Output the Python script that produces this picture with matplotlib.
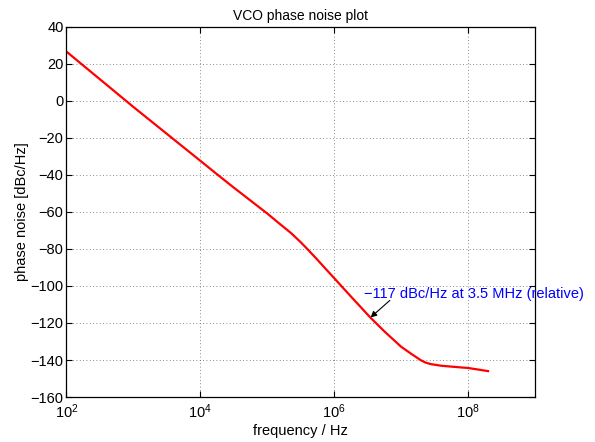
import numpy as np
import matplotlib
matplotlib.use('Agg')
from matplotlib import pyplot as plt
from matplotlib.ticker import FixedLocator, LogFormatterMathtext, NullLocator

plt.rcParams['font.family'] = ['Liberation Sans', 'DejaVu Sans']
plt.rcParams['mathtext.fontset'] = 'custom'
plt.rcParams['mathtext.rm'] = 'Liberation Sans'
plt.rcParams['mathtext.it'] = 'Liberation Sans:italic'

# values
log_freq = [2.0, 3.0, 4.0, 4.25, 4.5, 4.75, 5.0, 5.2, 5.36, 5.5, 5.6,
            5.75, 5.85, 6.0, 6.14, 6.3, 6.54, 6.75, 7.0, 7.15, 7.29, 7.36,
            7.44, 7.6, 7.89, 8.0, 8.3]
noise_db = [26.7, -3.2, -32.3, -39.6, -46.8, -53.8, -60.8, -66.8, -71.5,
            -76.3, -80.0, -85.8, -89.8, -95.7, -101.3, -107.6, -117.0,
            -124.5, -132.8, -136.6, -140.0, -141.3, -142.2, -143.1, -144.0,
            -144.3, -146.0]
freq = 10.0 ** np.array(log_freq)

mark_f = 3.5e6
mark_db = -117
mark_text = '\u2212117 dBc/Hz at 3.5 MHz (relative)'

fig = plt.figure(figsize=(5.95, 4.42), dpi=100)
ax = fig.add_axes([0.1116, 0.1018, 0.899 - 0.1116, 0.939 - 0.1018])

ax.semilogx(freq, noise_db, color='red', lw=1.6)

ax.set_xlim(1e2, 1e9)
ax.set_ylim(-160, 40)
ax.xaxis.set_major_locator(FixedLocator([1e2, 1e4, 1e6, 1e8]))
ax.xaxis.set_major_formatter(LogFormatterMathtext())
ax.xaxis.set_minor_locator(NullLocator())
ax.set_yticks(np.arange(-160, 41, 20))

ax.grid(True, which='major', linestyle=(0, (1, 3)), color='#666666', lw=0.6)
ax.tick_params(direction='in', top=True, right=True, length=4, width=0.8,
               labelsize=10.5, pad=2)
ax.tick_params(axis='x', pad=4)
for s in ax.spines.values():
    s.set_linewidth(0.9)

ax.set_title('VCO phase noise plot', fontsize=10, pad=5)
ax.set_xlabel('frequency / Hz', fontsize=10.5, labelpad=2)
ax.set_ylabel('phase noise [dBc/Hz]', fontsize=10.5, labelpad=1)

ax.annotate('', xy=(mark_f, mark_db), xytext=(6.8e6, -107.8),
            arrowprops=dict(arrowstyle='-|>', color='black', lw=0.8,
                            mutation_scale=9, shrinkA=0, shrinkB=0))
ax.text(2.75e6, -104.5, mark_text, color='blue', fontsize=10.5,
        ha='left', va='center')

fig.savefig('out.png', dpi=100)
